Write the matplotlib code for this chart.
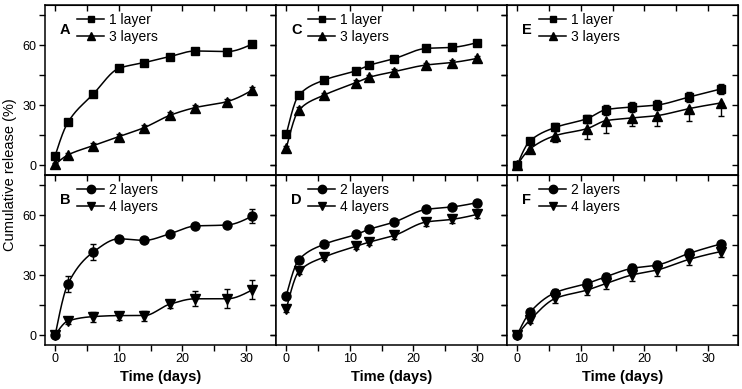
import numpy as np
import matplotlib
matplotlib.use('Agg')
import matplotlib.pyplot as plt
from matplotlib.ticker import MultipleLocator
from matplotlib.lines import Line2D

plt.rcParams['font.family'] = ['Liberation Sans', 'DejaVu Sans']

# sampling days
days_ab = [0, 2, 6, 10, 14, 18, 22, 27, 31]
days_cd = [0, 2, 6, 11, 13, 17, 22, 26, 30]
days_ef = [0, 2, 6, 11, 14, 18, 22, 27, 32]

# panel A
a_1layer = [4.7, 21.3, 35.5, 48.3, 51.2, 54.2, 57.0, 56.7, 60.5]
a_1layer_err = [0.8, 0.8, 0.8, 0.8, 0.8, 0.8, 0.8, 0.8, 0.8]
a_3layers = [0.3, 5.0, 9.7, 14.2, 18.7, 24.8, 28.7, 31.7, 37.5]
a_3layers_err = [0.8, 1.2, 1.2, 1.5, 1.5, 1.5, 1.5, 1.5, 1.5]

# panel B
b_2layers = [0.0, 25.5, 41.5, 48.1, 47.3, 50.6, 54.5, 55.0, 59.5]
b_2layers_err = [1.0, 4.0, 4.0, 1.2, 1.0, 1.0, 1.0, 1.0, 3.7]
b_4layers = [0.0, 7.0, 9.2, 9.7, 9.7, 15.4, 18.1, 18.1, 22.6]
b_4layers_err = [1.0, 1.5, 2.5, 2.0, 2.5, 2.0, 3.7, 4.8, 4.8]

# panel C
c_1layer = [15.3, 35.0, 42.5, 47.2, 49.8, 53.2, 58.3, 58.8, 61.2]
c_1layer_err = [1.0, 1.0, 0.8, 0.8, 0.8, 0.8, 0.8, 0.8, 0.8]
c_3layers = [8.3, 27.5, 35.0, 41.2, 43.8, 46.7, 50.0, 51.2, 53.3]
c_3layers_err = [1.0, 1.5, 1.2, 1.2, 1.2, 1.2, 1.2, 1.2, 1.2]

# panel D
d_2layers = [19.6, 37.7, 45.4, 50.3, 52.8, 56.5, 62.8, 64.0, 66.2]
d_2layers_err = [1.0, 1.0, 1.0, 1.0, 1.0, 1.0, 1.5, 1.5, 1.5]
d_4layers = [12.9, 31.8, 39.0, 44.4, 46.4, 49.8, 56.5, 57.8, 60.3]
d_4layers_err = [1.5, 1.5, 1.5, 1.5, 1.5, 2.0, 2.0, 2.0, 2.0]

# panel E (3 layers shows only lower error bars)
e_1layer = [0.0, 12.0, 18.8, 23.2, 27.7, 29.0, 30.0, 34.0, 38.0]
e_1layer_err = [1.0, 1.5, 2.0, 2.0, 2.5, 2.5, 2.5, 2.5, 2.5]
e_3layers = [0.0, 8.0, 14.7, 18.2, 22.2, 23.5, 24.7, 28.2, 31.0]
e_3layers_err_low = [1.0, 1.5, 3.4, 5.0, 6.0, 4.2, 5.3, 6.3, 6.3]

# panel F
f_2layers = [0.0, 11.3, 21.2, 25.8, 29.2, 33.3, 35.0, 40.8, 45.5]
f_2layers_err = [1.0, 1.5, 2.0, 2.0, 2.0, 2.0, 2.0, 2.0, 1.5]
f_4layers = [0.0, 7.5, 18.3, 22.5, 25.8, 30.0, 32.5, 37.8, 41.7]
f_4layers_err = [1.0, 1.5, 2.5, 2.5, 3.0, 3.0, 3.0, 3.0, 2.5]


# smooth monotone connector through the points (like Origin's spline line)
def pchip_curve(x, y, num=300):
    x = np.asarray(x, float)
    y = np.asarray(y, float)
    h = np.diff(x)
    d = np.diff(y) / h
    n = len(x)
    m = np.zeros(n)
    for k in range(1, n - 1):
        if d[k - 1] * d[k] > 0:
            w1 = 2 * h[k] + h[k - 1]
            w2 = h[k] + 2 * h[k - 1]
            m[k] = (w1 + w2) / (w1 / d[k - 1] + w2 / d[k])
    m0 = ((2 * h[0] + h[1]) * d[0] - h[0] * d[1]) / (h[0] + h[1])
    if np.sign(m0) != np.sign(d[0]):
        m0 = 0
    m[0] = m0
    mn = ((2 * h[-1] + h[-2]) * d[-1] - h[-1] * d[-2]) / (h[-1] + h[-2])
    if np.sign(mn) != np.sign(d[-1]):
        mn = 0
    m[-1] = mn
    xs = np.linspace(x[0], x[-1], num)
    idx = np.clip(np.searchsorted(x, xs) - 1, 0, n - 2)
    t = (xs - x[idx]) / h[idx]
    h00 = 2 * t**3 - 3 * t**2 + 1
    h10 = t**3 - 2 * t**2 + t
    h01 = -2 * t**3 + 3 * t**2
    h11 = t**3 - t**2
    ys = (h00 * y[idx] + h10 * h[idx] * m[idx]
          + h01 * y[idx + 1] + h11 * h[idx] * m[idx + 1])
    return xs, ys


def draw_series(ax, x, y, yerr, marker, ms):
    xs, ys = pchip_curve(x, y)
    ax.plot(xs, ys, color='black', lw=1.1, zorder=2)
    ax.errorbar(x, y, yerr=yerr, fmt=marker, ms=ms, color='black',
                ecolor='black', elinewidth=1.0, capsize=2.2, capthick=1.0,
                zorder=3)


fig = plt.figure(figsize=(7.42, 3.89), dpi=100)
W, H = 742.0, 389.0
col_left = [45, 276, 507]
col_w = 231
row_top = [5, 175]
row_h = 170

panels = [
    ('A', 0, 0, days_ab, [(a_1layer, a_1layer_err, 's', 5.5, '1 layer'),
                          (a_3layers, a_3layers_err, '^', 6.5, '3 layers')]),
    ('B', 1, 0, days_ab, [(b_2layers, b_2layers_err, 'o', 6.5, '2 layers'),
                          (b_4layers, b_4layers_err, 'v', 6.5, '4 layers')]),
    ('C', 0, 1, days_cd, [(c_1layer, c_1layer_err, 's', 5.5, '1 layer'),
                          (c_3layers, c_3layers_err, '^', 6.5, '3 layers')]),
    ('D', 1, 1, days_cd, [(d_2layers, d_2layers_err, 'o', 6.5, '2 layers'),
                          (d_4layers, d_4layers_err, 'v', 6.5, '4 layers')]),
    ('E', 0, 2, days_ef, [(e_1layer, e_1layer_err, 's', 5.5, '1 layer'),
                          (e_3layers, [e_3layers_err_low, [0] * 9], '^', 6.5, '3 layers')]),
    ('F', 1, 2, days_ef, [(f_2layers, f_2layers_err, 'o', 6.5, '2 layers'),
                          (f_4layers, f_4layers_err, 'v', 6.5, '4 layers')]),
]

for letter, row, col, days, series in panels:
    left = col_left[col] / W
    bottom = (H - row_top[row] - row_h) / H
    ax = fig.add_axes([left, bottom, col_w / W, row_h / H])
    handles = []
    for vals, err, marker, ms, label in series:
        draw_series(ax, days, vals, err, marker, ms)
        handles.append(Line2D([], [], color='black', lw=1.1, marker=marker,
                              ms=ms - 0.5, label=label))

    ax.set_xlim(-1.6, 34.7)
    ax.set_ylim(-5, 80)
    ax.xaxis.set_major_locator(MultipleLocator(10))
    ax.xaxis.set_minor_locator(MultipleLocator(5))
    ax.yaxis.set_major_locator(MultipleLocator(30))
    ax.yaxis.set_minor_locator(MultipleLocator(15))
    ax.tick_params(which='both', direction='out', length=4, width=1.0,
                   labelsize=9, pad=2)
    for sp in ax.spines.values():
        sp.set_linewidth(1.1)

    # inward ticks on top and right, as in the original
    sec_x = ax.secondary_xaxis('top')
    sec_x.xaxis.set_major_locator(MultipleLocator(10))
    sec_x.xaxis.set_minor_locator(MultipleLocator(5))
    sec_x.tick_params(which='both', direction='in', length=4, width=1.0,
                      labeltop=False)
    sec_y = ax.secondary_yaxis('right')
    sec_y.yaxis.set_major_locator(MultipleLocator(30))
    sec_y.yaxis.set_minor_locator(MultipleLocator(15))
    sec_y.tick_params(which='both', direction='in', length=4, width=1.0,
                      labelright=False)

    if col != 0:
        ax.set_yticklabels([])
    if row == 0:
        ax.set_xticklabels([])
    else:
        ax.set_xlabel('Time (days)', fontsize=10.5, fontweight='bold', labelpad=3)

    ax.text(0.065, 0.855, letter, transform=ax.transAxes, fontsize=10.5,
            fontweight='bold', ha='left', va='center')
    ax.legend(handles=handles, loc='upper left', bbox_to_anchor=(0.14, 0.955),
              frameon=False, fontsize=10, handlelength=1.9, handletextpad=0.35,
              labelspacing=0.25, borderpad=0, borderaxespad=0)

fig.text(10 / W, (H - 175) / H, 'Cumulative release (%)', rotation=90,
         fontsize=10.5, ha='center', va='center')

fig.savefig('out.png', dpi=100)
